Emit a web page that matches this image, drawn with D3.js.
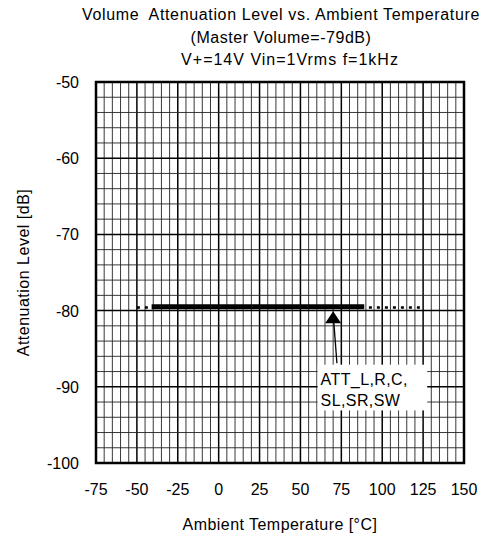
<!DOCTYPE html>
<html>
<head>
<meta charset="utf-8">
<script src="https://cdn.jsdelivr.net/npm/d3@7"></script>
<style>
  body { margin: 0; background: #fff; }
  text { font-family: Arial, "Liberation Sans", sans-serif; fill: #000; white-space: pre; }
</style>
</head>
<body>
<svg id="chart" width="488" height="537"></svg>
<script>
const titleLines = ['Volume  Attenuation Level vs. Ambient Temperature', '(Master Volume=-79dB)', 'V+=14V Vin=1Vrms f=1kHz'];
const xTicks = [-75, -50, -25, 0, 25, 50, 75, 100, 125, 150];
const yTicks = [-50, -60, -70, -80, -90, -100];

// dotted trace (full range) and thick solid trace
const tempDotted = [-50, -45, -40, -35, -30, -25, -20, -15, -10, -5, 0, 5, 10, 15, 20, 25, 30, 35, 40, 45, 50, 55, 60, 65, 70, 75, 80, 85, 90, 95, 100, 105, 110, 115, 120, 125];
const attDotted = [-79.6, -79.6, -79.6, -79.6, -79.6, -79.6, -79.6, -79.6, -79.6, -79.6, -79.6, -79.6, -79.6, -79.6, -79.6, -79.6, -79.6, -79.6, -79.6, -79.6, -79.6, -79.6, -79.6, -79.6, -79.6, -79.6, -79.6, -79.6, -79.6, -79.6, -79.6, -79.6, -79.6, -79.6, -79.6, -79.6];
const tempSolid = [-41, -25, 0, 25, 50, 75, 89];
const attSolid = [-79.5, -79.5, -79.5, -79.5, -79.5, -79.5, -79.5];

const labelLines = ['ATT_L,R,C,', 'SL,SR,SW'];

const svg = d3.select('#chart');
const margin = { top: 82, left: 96, right: 24, bottom: 74 };
const width = 488 - margin.left - margin.right;
const height = 537 - margin.top - margin.bottom;

const x = d3.scaleLinear().domain([-75, 150]).range([0, width]);
const y = d3.scaleLinear().domain([-100, -50]).range([height, 0]);

const chart = svg.append('g')
    .attr('transform', `translate(${margin.left}, ${margin.top})`);

// grid
chart.append('g')
    .selectAll('line')
    .data(d3.range(-75, 151, 5))
    .enter().append('line')
    .attr('x1', d => x(d)).attr('x2', d => x(d))
    .attr('y1', 0).attr('y2', height)
    .attr('stroke', d => d % 25 === 0 ? '#000' : '#222')
    .attr('stroke-width', d => d % 25 === 0 ? 1.5 : 0.9);

chart.append('g')
    .selectAll('line')
    .data(d3.range(-100, -49, 2))
    .enter().append('line')
    .attr('x1', 0).attr('x2', width)
    .attr('y1', d => y(d)).attr('y2', d => y(d))
    .attr('stroke', d => d % 10 === 0 ? '#000' : '#222')
    .attr('stroke-width', d => d % 10 === 0 ? 1.5 : 0.9);

// border
chart.append('rect')
    .attr('width', width).attr('height', height)
    .attr('fill', 'none').attr('stroke', '#000').attr('stroke-width', 2.5);

// tick labels
chart.append('g')
    .selectAll('text')
    .data(xTicks)
    .enter().append('text')
    .attr('x', d => x(d))
    .attr('y', height + 32)
    .attr('text-anchor', 'middle')
    .style('font-size', '16px')
    .text(d => d);

chart.append('g')
    .selectAll('text')
    .data(yTicks)
    .enter().append('text')
    .attr('x', -17)
    .attr('y', d => y(d) + 6)
    .attr('text-anchor', 'end')
    .style('font-size', '16px')
    .text(d => d);

svg.append('text')
    .attr('x', margin.left + width / 2)
    .attr('y', 530)
    .attr('text-anchor', 'middle')
    .style('font-size', '16px')
    .style('letter-spacing', '0.45px')
    .text('Ambient Temperature [°C]');

svg.append('text')
    .attr('transform', `translate(29, ${margin.top + height / 2}) rotate(-90)`)
    .attr('text-anchor', 'middle')
    .style('font-size', '16px')
    .style('letter-spacing', '0.5px')
    .text('Attenuation Level [dB]');

const titleCenters = [281, 281, 290];
const titleSpacing = [0.65, 0.55, 1.0];
svg.append('g')
    .selectAll('text')
    .data(titleLines)
    .enter().append('text')
    .attr('x', (d, i) => titleCenters[i])
    .attr('y', (d, i) => 20 + i * 22.5)
    .attr('text-anchor', 'middle')
    .style('font-size', '16px')
    .style('letter-spacing', (d, i) => titleSpacing[i] + 'px')
    .text(d => d);

// traces
const line = d3.line().x(d => x(d[0])).y(d => y(d[1]));

chart.append('path')
    .datum(d3.zip(tempDotted, attDotted))
    .attr('d', line)
    .attr('fill', 'none')
    .attr('stroke', '#000')
    .attr('stroke-width', 2.5)
    .attr('stroke-dasharray', '3,5');

chart.append('path')
    .datum(d3.zip(tempSolid, attSolid))
    .attr('d', line)
    .attr('fill', 'none')
    .attr('stroke', '#000')
    .attr('stroke-width', 5);

// annotation
const arrowTip = [70, -80.1];
const arrowTail = [72.3, -86.9];

chart.append('line')
    .attr('x1', x(arrowTail[0])).attr('y1', y(arrowTail[1]))
    .attr('x2', x(arrowTip[0]) + 0.6).attr('y2', y(arrowTip[1]) + 10)
    .attr('stroke', '#000').attr('stroke-width', 1.3);

chart.append('path')
    .attr('d', `M${x(arrowTip[0])},${y(arrowTip[1])} l-8,12 l16,0 Z`)
    .attr('fill', '#000');

const boxX0 = x(60.5), boxX1 = x(127.5);
const boxY0 = y(-87.1), boxY1 = y(-93.1);
chart.append('rect')
    .attr('x', boxX0).attr('y', boxY0)
    .attr('width', boxX1 - boxX0).attr('height', boxY1 - boxY0)
    .attr('fill', '#fff');

chart.append('g')
    .selectAll('text')
    .data(labelLines)
    .enter().append('text')
    .attr('x', boxX0 + 3)
    .attr('y', (d, i) => boxY0 + 20 + i * 21)
    .style('font-size', '16px')
    .style('letter-spacing', '0.4px')
    .text(d => d);
</script>
</body>
</html>
